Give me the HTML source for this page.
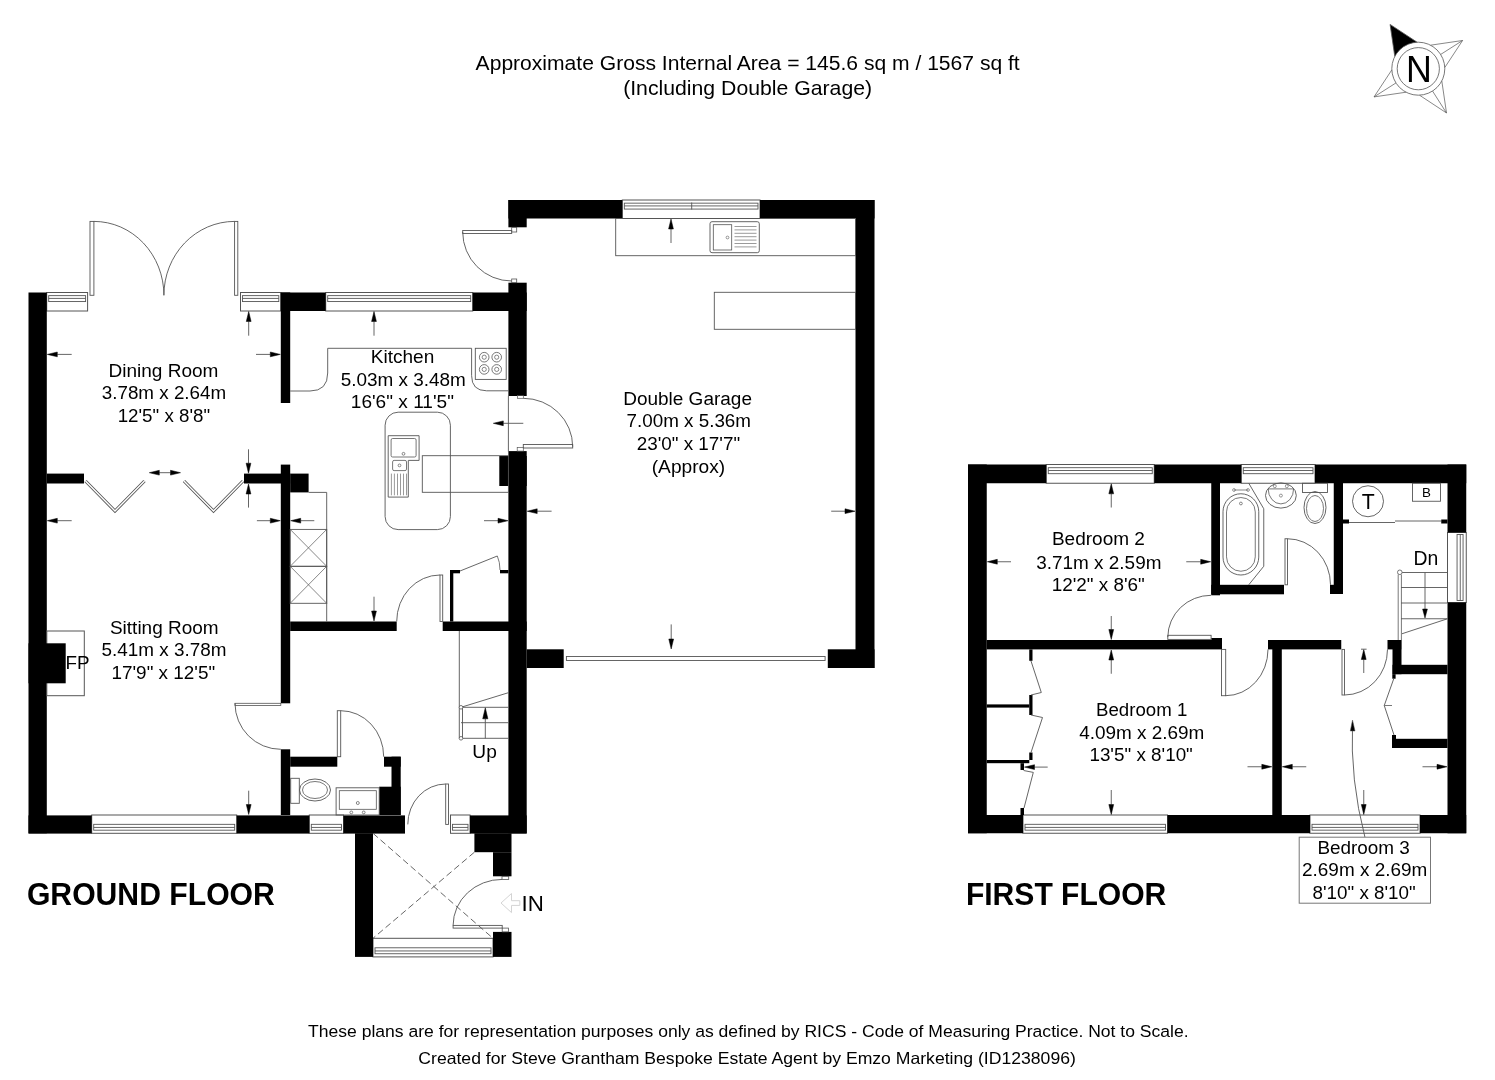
<!DOCTYPE html>
<html><head><meta charset="utf-8"><title>Floor plan</title>
<style>
html,body{margin:0;padding:0;background:#fff;}
body{width:1495px;height:1080px;overflow:hidden;}
svg{display:block;will-change:transform;}
text{font-family:"Liberation Sans",sans-serif;}
</style></head><body>
<svg width="1495" height="1080" viewBox="0 0 1495 1080">
<rect x="0" y="0" width="1495" height="1080" fill="#fff"/>
<rect x="46.70" y="292.50" width="40.90" height="18.50" rx="0" fill="#fff" stroke="#555" stroke-width="1"/>
<rect x="48.70" y="295.64" width="36.90" height="5.92" rx="0" fill="none" stroke="#555" stroke-width="0.9"/>
<line x1="48.70" y1="298.42" x2="85.60" y2="298.42" stroke="#555" stroke-width="0.9" />
<rect x="240.50" y="292.50" width="40.30" height="18.50" rx="0" fill="#fff" stroke="#555" stroke-width="1"/>
<rect x="242.50" y="295.64" width="36.30" height="5.92" rx="0" fill="none" stroke="#555" stroke-width="0.9"/>
<line x1="242.50" y1="298.42" x2="278.80" y2="298.42" stroke="#555" stroke-width="0.9" />
<rect x="325.70" y="292.50" width="147.00" height="18.50" rx="0" fill="#fff" stroke="#555" stroke-width="1"/>
<rect x="327.70" y="295.64" width="143.00" height="5.92" rx="0" fill="none" stroke="#555" stroke-width="0.9"/>
<line x1="327.70" y1="298.42" x2="470.70" y2="298.42" stroke="#555" stroke-width="0.9" />
<rect x="622.30" y="200.00" width="137.70" height="18.50" rx="0" fill="#fff" stroke="#555" stroke-width="1"/>
<rect x="624.30" y="203.15" width="133.70" height="5.92" rx="0" fill="none" stroke="#555" stroke-width="0.9"/>
<line x1="624.30" y1="205.92" x2="758.00" y2="205.92" stroke="#555" stroke-width="0.9" />
<line x1="691.70" y1="202.50" x2="691.70" y2="209.50" stroke="#555" stroke-width="0.9" />
<rect x="91.70" y="815.00" width="145.00" height="18.30" rx="0" fill="#fff" stroke="#555" stroke-width="1"/>
<rect x="93.70" y="824.33" width="141.00" height="5.86" rx="0" fill="none" stroke="#555" stroke-width="0.9"/>
<line x1="93.70" y1="827.44" x2="234.70" y2="827.44" stroke="#555" stroke-width="0.9" />
<rect x="309.30" y="815.00" width="34.20" height="18.30" rx="0" fill="#fff" stroke="#555" stroke-width="1"/>
<rect x="311.30" y="824.33" width="30.20" height="5.86" rx="0" fill="none" stroke="#555" stroke-width="0.9"/>
<line x1="311.30" y1="827.44" x2="341.50" y2="827.44" stroke="#555" stroke-width="0.9" />
<rect x="450.50" y="815.00" width="19.50" height="18.30" rx="0" fill="#fff" stroke="#555" stroke-width="1"/>
<rect x="452.50" y="824.33" width="15.50" height="5.86" rx="0" fill="none" stroke="#555" stroke-width="0.9"/>
<line x1="452.50" y1="827.44" x2="468.00" y2="827.44" stroke="#555" stroke-width="0.9" />
<rect x="373.00" y="938.30" width="120.00" height="18.60" rx="0" fill="#fff" stroke="#555" stroke-width="1"/>
<rect x="375.00" y="947.79" width="116.00" height="5.95" rx="0" fill="none" stroke="#555" stroke-width="0.9"/>
<line x1="375.00" y1="950.95" x2="491.00" y2="950.95" stroke="#555" stroke-width="0.9" />
<rect x="28.50" y="292.50" width="18.30" height="540.80" fill="#000"/>
<rect x="46.80" y="473.60" width="37.20" height="9.90" fill="#000"/>
<rect x="244.00" y="473.60" width="46.20" height="9.90" fill="#000"/>
<rect x="290.20" y="473.60" width="18.40" height="18.80" fill="#000"/>
<rect x="280.80" y="292.50" width="9.40" height="110.50" fill="#000"/>
<rect x="280.80" y="292.50" width="44.90" height="18.50" fill="#000"/>
<rect x="280.80" y="464.60" width="9.40" height="238.70" fill="#000"/>
<rect x="280.80" y="749.30" width="9.40" height="65.70" fill="#000"/>
<rect x="472.70" y="292.50" width="54.00" height="18.50" fill="#000"/>
<rect x="508.40" y="282.70" width="18.30" height="113.30" fill="#000"/>
<rect x="508.40" y="200.00" width="18.30" height="27.30" fill="#000"/>
<rect x="508.40" y="200.00" width="113.90" height="18.50" fill="#000"/>
<rect x="760.00" y="200.00" width="114.50" height="18.50" fill="#000"/>
<rect x="855.50" y="200.00" width="19.00" height="468.00" fill="#000"/>
<rect x="827.80" y="649.30" width="46.70" height="18.70" fill="#000"/>
<rect x="508.40" y="451.10" width="18.30" height="382.20" fill="#000"/>
<rect x="499.30" y="456.00" width="27.40" height="30.00" fill="#000"/>
<rect x="526.70" y="649.30" width="37.00" height="18.70" fill="#000"/>
<rect x="290.20" y="621.50" width="106.50" height="9.50" fill="#000"/>
<rect x="442.70" y="621.50" width="84.00" height="9.50" fill="#000"/>
<rect x="290.20" y="756.70" width="47.10" height="10.00" fill="#000"/>
<rect x="384.00" y="756.70" width="16.70" height="10.00" fill="#000"/>
<rect x="391.50" y="756.70" width="9.20" height="58.30" fill="#000"/>
<rect x="379.20" y="786.70" width="21.50" height="28.30" fill="#000"/>
<rect x="28.50" y="815.40" width="63.20" height="18.20" fill="#000"/>
<rect x="236.70" y="815.40" width="72.60" height="18.20" fill="#000"/>
<rect x="343.50" y="815.40" width="61.50" height="18.20" fill="#000"/>
<rect x="470.00" y="815.40" width="56.70" height="18.20" fill="#000"/>
<rect x="355.00" y="833.30" width="18.00" height="123.60" fill="#000"/>
<rect x="474.40" y="833.30" width="37.10" height="18.90" fill="#000"/>
<rect x="493.00" y="852.20" width="18.50" height="24.10" fill="#000"/>
<rect x="493.00" y="931.90" width="18.50" height="25.00" fill="#000"/>
<rect x="46.80" y="631.00" width="37.50" height="64.70" rx="0" fill="none" stroke="#555" stroke-width="1"/>
<rect x="28.50" y="643.30" width="37.20" height="40.00" fill="#000"/>
<rect x="90.00" y="221.40" width="3.90" height="73.90" rx="0" fill="none" stroke="#555" stroke-width="0.9"/>
<rect x="234.60" y="221.40" width="3.20" height="73.90" rx="0" fill="none" stroke="#555" stroke-width="0.9"/>
<path d="M 93.9 221.4 A 70 73.9 0 0 1 163.9 295.3" fill="none" stroke="#555" stroke-width="0.9"/>
<path d="M 234.6 221.4 A 70.7 73.9 0 0 0 163.9 295.3" fill="none" stroke="#555" stroke-width="0.9"/>
<path d="M 85.5 481.0 L 115.0 511.0 L 144.5 481.0" fill="none" stroke="#555" stroke-width="3.2"/>
<path d="M 85.5 481.0 L 115.0 511.0 L 144.5 481.0" fill="none" stroke="#fff" stroke-width="1.4"/>
<path d="M 184.0 481.0 L 213.5 511.0 L 243.0 481.0" fill="none" stroke="#555" stroke-width="3.2"/>
<path d="M 184.0 481.0 L 213.5 511.0 L 243.0 481.0" fill="none" stroke="#fff" stroke-width="1.4"/>
<line x1="165.00" y1="472.70" x2="159.30" y2="472.70" stroke="#555" stroke-width="0.9" />
<polygon points="149.30,472.70 159.30,470.30 159.30,475.10" fill="#000" stroke="#000" stroke-width="0.5"/>
<line x1="165.00" y1="472.70" x2="170.50" y2="472.70" stroke="#555" stroke-width="0.9" />
<polygon points="180.50,472.70 170.50,475.10 170.50,470.30" fill="#000" stroke="#000" stroke-width="0.5"/>
<path d="M 290.2 391 L 310 391 Q 327.7 391 327.7 373 L 327.7 348.3 L 471.6 348.3 L 471.6 375.6 Q 471.6 390.8 486.6 390.8 L 508.4 390.8" fill="none" stroke="#555" stroke-width="0.9"/>
<rect x="475.30" y="348.30" width="30.90" height="31.10" rx="0" fill="none" stroke="#555" stroke-width="0.9"/>
<circle cx="484.20" cy="357.20" r="4.80" fill="none" stroke="#555" stroke-width="0.8"/>
<circle cx="484.20" cy="357.20" r="2.10" fill="none" stroke="#555" stroke-width="0.7"/>
<circle cx="496.70" cy="357.20" r="4.80" fill="none" stroke="#555" stroke-width="0.8"/>
<circle cx="496.70" cy="357.20" r="2.10" fill="none" stroke="#555" stroke-width="0.7"/>
<circle cx="484.20" cy="369.40" r="4.80" fill="none" stroke="#555" stroke-width="0.8"/>
<circle cx="484.20" cy="369.40" r="2.10" fill="none" stroke="#555" stroke-width="0.7"/>
<circle cx="496.70" cy="369.40" r="4.80" fill="none" stroke="#555" stroke-width="0.8"/>
<circle cx="496.70" cy="369.40" r="2.10" fill="none" stroke="#555" stroke-width="0.7"/>
<rect x="385.10" y="412.20" width="65.30" height="117.40" rx="13" fill="none" stroke="#555" stroke-width="0.9"/>
<rect x="422.30" y="455.70" width="86.10" height="36.60" rx="0" fill="none" stroke="#555" stroke-width="0.9"/>
<polygon points="388.20,435.70 419.10,435.70 419.10,460.40 408.30,460.40 408.30,497.10 388.20,497.10" fill="none" stroke="#555" stroke-width="0.9"/>
<rect x="391.10" y="438.50" width="25.00" height="18.50" rx="1.5" fill="none" stroke="#555" stroke-width="0.8"/>
<circle cx="403.50" cy="453.80" r="1.40" fill="none" stroke="#555" stroke-width="0.7"/>
<rect x="392.60" y="460.40" width="13.90" height="10.20" rx="1.5" fill="none" stroke="#555" stroke-width="0.8"/>
<circle cx="399.50" cy="465.40" r="1.40" fill="none" stroke="#555" stroke-width="0.7"/>
<line x1="391.40" y1="473.60" x2="391.40" y2="495.30" stroke="#555" stroke-width="0.6" />
<line x1="394.40" y1="473.60" x2="394.40" y2="495.30" stroke="#555" stroke-width="0.6" />
<line x1="397.50" y1="473.60" x2="397.50" y2="495.30" stroke="#555" stroke-width="0.6" />
<line x1="400.50" y1="473.60" x2="400.50" y2="495.30" stroke="#555" stroke-width="0.6" />
<line x1="403.50" y1="473.60" x2="403.50" y2="495.30" stroke="#555" stroke-width="0.6" />
<line x1="406.50" y1="473.60" x2="406.50" y2="495.30" stroke="#555" stroke-width="0.6" />
<line x1="508.40" y1="396.00" x2="508.40" y2="451.70" stroke="#555" stroke-width="0.9" />
<rect x="517.50" y="395.60" width="5.80" height="2.70" rx="0" fill="none" stroke="#555" stroke-width="0.7"/>
<rect x="523.30" y="444.50" width="49.40" height="3.50" rx="0" fill="none" stroke="#555" stroke-width="0.9"/>
<rect x="517.20" y="447.60" width="6.10" height="3.50" rx="0" fill="none" stroke="#555" stroke-width="0.7"/>
<path d="M 523.3 398.3 A 49.4 48.4 0 0 1 572.7 446.7" fill="none" stroke="#555" stroke-width="0.9"/>
<rect x="462.70" y="230.50" width="49.00" height="3.00" rx="0" fill="none" stroke="#555" stroke-width="0.9"/>
<rect x="511.70" y="227.30" width="5.00" height="4.70" rx="0" fill="none" stroke="#555" stroke-width="0.8"/>
<path d="M 462.7 232 A 49 49 0 0 0 511.7 281" fill="none" stroke="#555" stroke-width="0.9"/>
<rect x="511.70" y="279.00" width="5.00" height="3.70" rx="0" fill="none" stroke="#555" stroke-width="0.8"/>
<rect x="615.70" y="218.50" width="239.80" height="37.20" rx="0" fill="none" stroke="#555" stroke-width="0.9"/>
<rect x="710.00" y="221.70" width="49.30" height="31.00" rx="2" fill="none" stroke="#555" stroke-width="0.9"/>
<rect x="713.30" y="224.70" width="18.40" height="25.30" rx="0" fill="none" stroke="#555" stroke-width="0.8"/>
<circle cx="727.50" cy="237.50" r="1.40" fill="none" stroke="#555" stroke-width="0.6"/>
<line x1="734.50" y1="226.50" x2="756.50" y2="226.50" stroke="#555" stroke-width="0.6" />
<line x1="734.50" y1="229.90" x2="756.50" y2="229.90" stroke="#555" stroke-width="0.6" />
<line x1="734.50" y1="233.30" x2="756.50" y2="233.30" stroke="#555" stroke-width="0.6" />
<line x1="734.50" y1="236.70" x2="756.50" y2="236.70" stroke="#555" stroke-width="0.6" />
<line x1="734.50" y1="240.10" x2="756.50" y2="240.10" stroke="#555" stroke-width="0.6" />
<line x1="734.50" y1="243.50" x2="756.50" y2="243.50" stroke="#555" stroke-width="0.6" />
<line x1="734.50" y1="246.90" x2="756.50" y2="246.90" stroke="#555" stroke-width="0.6" />
<rect x="714.30" y="292.30" width="141.20" height="37.00" rx="0" fill="none" stroke="#555" stroke-width="0.9"/>
<rect x="566.40" y="656.50" width="258.70" height="4.00" rx="0" fill="none" stroke="#555" stroke-width="0.9"/>
<line x1="326.70" y1="492.40" x2="326.70" y2="621.50" stroke="#555" stroke-width="0.9" />
<line x1="308.60" y1="492.40" x2="326.70" y2="492.40" stroke="#555" stroke-width="0.9" />
<rect x="290.20" y="529.40" width="36.50" height="36.90" rx="0" fill="none" stroke="#555" stroke-width="0.9"/>
<line x1="290.20" y1="529.40" x2="326.70" y2="566.30" stroke="#555" stroke-width="0.7" />
<line x1="326.70" y1="529.40" x2="290.20" y2="566.30" stroke="#555" stroke-width="0.7" />
<rect x="290.20" y="566.30" width="36.50" height="37.00" rx="0" fill="none" stroke="#555" stroke-width="0.9"/>
<line x1="290.20" y1="566.30" x2="326.70" y2="603.30" stroke="#555" stroke-width="0.7" />
<line x1="326.70" y1="566.30" x2="290.20" y2="603.30" stroke="#555" stroke-width="0.7" />
<rect x="440.00" y="575.00" width="2.70" height="46.50" rx="0" fill="none" stroke="#555" stroke-width="0.9"/>
<path d="M 440 575 A 43.3 46.5 0 0 0 396.7 621.5" fill="none" stroke="#555" stroke-width="0.9"/>
<rect x="450.00" y="570.00" width="3.30" height="51.50" fill="#000"/>
<rect x="450.00" y="570.00" width="10.00" height="3.30" fill="#000"/>
<rect x="500.00" y="570.00" width="8.40" height="3.30" fill="#000"/>
<line x1="460.00" y1="571.00" x2="497.30" y2="556.00" stroke="#555" stroke-width="0.9" />
<path d="M 497.3 556 Q 500 562 500 570" fill="none" stroke="#555" stroke-width="0.8"/>
<rect x="235.00" y="703.30" width="45.80" height="2.20" rx="0" fill="none" stroke="#555" stroke-width="0.8"/>
<path d="M 235 703.3 A 45.8 46 0 0 0 280.8 749.3" fill="none" stroke="#555" stroke-width="0.9"/>
<rect x="337.30" y="710.70" width="3.40" height="46.00" rx="0" fill="none" stroke="#555" stroke-width="0.9"/>
<path d="M 340.7 710.7 A 43 46 0 0 1 383.7 756.7" fill="none" stroke="#555" stroke-width="0.9"/>
<rect x="290.70" y="778.30" width="8.60" height="25.00" rx="0" fill="none" stroke="#555" stroke-width="0.9"/>
<ellipse cx="315.00" cy="790.00" rx="15.50" ry="11.00" fill="none" stroke="#555" stroke-width="0.9"/>
<ellipse cx="315.00" cy="790.00" rx="12.50" ry="8.50" fill="none" stroke="#555" stroke-width="0.8"/>
<rect x="336.10" y="787.80" width="43.10" height="27.20" rx="0" fill="none" stroke="#555" stroke-width="0.9"/>
<rect x="339.30" y="790.70" width="37.00" height="18.60" rx="0" fill="none" stroke="#555" stroke-width="0.8"/>
<circle cx="357.80" cy="803.00" r="1.50" fill="none" stroke="#555" stroke-width="0.7"/>
<circle cx="351.30" cy="812.40" r="1.40" fill="none" stroke="#555" stroke-width="0.7"/>
<circle cx="363.70" cy="812.40" r="1.40" fill="none" stroke="#555" stroke-width="0.7"/>
<line x1="459.30" y1="631.00" x2="459.30" y2="738.30" stroke="#555" stroke-width="0.9" />
<line x1="462.50" y1="707.60" x2="462.50" y2="738.40" stroke="#555" stroke-width="0.9" />
<line x1="461.00" y1="707.30" x2="508.40" y2="707.30" stroke="#555" stroke-width="0.9" />
<line x1="461.00" y1="722.70" x2="508.40" y2="722.70" stroke="#555" stroke-width="0.9" />
<line x1="461.00" y1="738.30" x2="508.40" y2="738.30" stroke="#555" stroke-width="0.9" />
<line x1="461.00" y1="707.30" x2="508.40" y2="692.70" stroke="#555" stroke-width="0.9" />
<circle cx="461.00" cy="707.30" r="1.80" fill="#fff" stroke="#555" stroke-width="0.8"/>
<circle cx="461.00" cy="738.30" r="1.80" fill="#fff" stroke="#555" stroke-width="0.8"/>
<line x1="485.30" y1="738.40" x2="485.30" y2="718.80" stroke="#555" stroke-width="0.9" />
<polygon points="485.30,707.80 487.90,718.80 482.70,718.80" fill="#000" stroke="#000" stroke-width="0.5"/>
<rect x="445.70" y="784.00" width="2.80" height="40.40" rx="0" fill="none" stroke="#555" stroke-width="0.9"/>
<path d="M 445.7 784 A 38 40.4 0 0 0 407.8 824.4" fill="none" stroke="#555" stroke-width="0.9"/>
<line x1="373.00" y1="833.30" x2="493.00" y2="938.30" stroke="#555" stroke-width="0.9" stroke-dasharray="6.5,3.5"/>
<line x1="474.40" y1="852.20" x2="373.00" y2="938.30" stroke="#555" stroke-width="0.9" stroke-dasharray="6.5,3.5"/>
<rect x="453.10" y="925.40" width="49.10" height="2.70" rx="0" fill="none" stroke="#555" stroke-width="0.9"/>
<rect x="502.20" y="928.10" width="6.30" height="3.80" rx="0" fill="none" stroke="#555" stroke-width="0.8"/>
<path d="M 453.1 925.4 A 49 46 0 0 1 502.2 879.4" fill="none" stroke="#555" stroke-width="0.9"/>
<rect x="502.00" y="876.30" width="6.70" height="3.10" rx="0" fill="none" stroke="#555" stroke-width="0.8"/>
<polygon points="501.00,903.00 511.50,893.50 511.50,900.70 519.80,900.70 519.80,905.40 511.50,905.40 511.50,912.60" fill="none" stroke="#d4d4d4" stroke-width="1"/>
<line x1="71.70" y1="354.40" x2="57.30" y2="354.40" stroke="#555" stroke-width="0.9" />
<polygon points="47.30,354.40 57.30,352.00 57.30,356.80" fill="#000" stroke="#000" stroke-width="0.5"/>
<line x1="256.00" y1="354.40" x2="270.30" y2="354.40" stroke="#555" stroke-width="0.9" />
<polygon points="280.30,354.40 270.30,356.80 270.30,352.00" fill="#000" stroke="#000" stroke-width="0.5"/>
<line x1="248.70" y1="335.70" x2="248.70" y2="321.50" stroke="#555" stroke-width="0.9" />
<polygon points="248.70,311.50 251.10,321.50 246.30,321.50" fill="#000" stroke="#000" stroke-width="0.5"/>
<line x1="374.00" y1="335.70" x2="374.00" y2="321.50" stroke="#555" stroke-width="0.9" />
<polygon points="374.00,311.50 376.40,321.50 371.60,321.50" fill="#000" stroke="#000" stroke-width="0.5"/>
<line x1="671.00" y1="243.00" x2="671.00" y2="229.00" stroke="#555" stroke-width="0.9" />
<polygon points="671.00,219.00 673.40,229.00 668.60,229.00" fill="#000" stroke="#000" stroke-width="0.5"/>
<line x1="71.70" y1="520.70" x2="57.30" y2="520.70" stroke="#555" stroke-width="0.9" />
<polygon points="47.30,520.70 57.30,518.30 57.30,523.10" fill="#000" stroke="#000" stroke-width="0.5"/>
<line x1="256.90" y1="520.70" x2="270.30" y2="520.70" stroke="#555" stroke-width="0.9" />
<polygon points="280.30,520.70 270.30,523.10 270.30,518.30" fill="#000" stroke="#000" stroke-width="0.5"/>
<line x1="314.30" y1="520.70" x2="300.70" y2="520.70" stroke="#555" stroke-width="0.9" />
<polygon points="290.70,520.70 300.70,518.30 300.70,523.10" fill="#000" stroke="#000" stroke-width="0.5"/>
<line x1="248.50" y1="449.30" x2="248.50" y2="463.20" stroke="#555" stroke-width="0.9" />
<polygon points="248.50,473.20 246.10,463.20 250.90,463.20" fill="#000" stroke="#000" stroke-width="0.5"/>
<line x1="248.50" y1="507.60" x2="248.50" y2="494.00" stroke="#555" stroke-width="0.9" />
<polygon points="248.50,484.00 250.90,494.00 246.10,494.00" fill="#000" stroke="#000" stroke-width="0.5"/>
<line x1="248.70" y1="790.70" x2="248.70" y2="804.50" stroke="#555" stroke-width="0.9" />
<polygon points="248.70,814.50 246.30,804.50 251.10,804.50" fill="#000" stroke="#000" stroke-width="0.5"/>
<line x1="374.00" y1="596.70" x2="374.00" y2="611.00" stroke="#555" stroke-width="0.9" />
<polygon points="374.00,621.00 371.60,611.00 376.40,611.00" fill="#000" stroke="#000" stroke-width="0.5"/>
<line x1="484.00" y1="520.70" x2="498.00" y2="520.70" stroke="#555" stroke-width="0.9" />
<polygon points="508.00,520.70 498.00,523.10 498.00,518.30" fill="#000" stroke="#000" stroke-width="0.5"/>
<line x1="523.30" y1="423.30" x2="503.30" y2="423.30" stroke="#555" stroke-width="0.9" />
<polygon points="493.30,423.30 503.30,420.90 503.30,425.70" fill="#000" stroke="#000" stroke-width="0.5"/>
<line x1="551.60" y1="511.20" x2="537.20" y2="511.20" stroke="#555" stroke-width="0.9" />
<polygon points="527.20,511.20 537.20,508.80 537.20,513.60" fill="#000" stroke="#000" stroke-width="0.5"/>
<line x1="831.20" y1="511.20" x2="845.00" y2="511.20" stroke="#555" stroke-width="0.9" />
<polygon points="855.00,511.20 845.00,513.60 845.00,508.80" fill="#000" stroke="#000" stroke-width="0.5"/>
<line x1="671.20" y1="624.40" x2="671.20" y2="639.00" stroke="#555" stroke-width="0.9" />
<polygon points="671.20,649.00 668.80,639.00 673.60,639.00" fill="#000" stroke="#000" stroke-width="0.5"/>
<rect x="1046.25" y="464.50" width="108.00" height="18.75" rx="0" fill="#fff" stroke="#555" stroke-width="1"/>
<rect x="1048.25" y="467.69" width="104.00" height="6.00" rx="0" fill="none" stroke="#555" stroke-width="0.9"/>
<line x1="1048.25" y1="470.50" x2="1152.25" y2="470.50" stroke="#555" stroke-width="0.9" />
<rect x="1241.25" y="464.50" width="73.75" height="18.75" rx="0" fill="#fff" stroke="#555" stroke-width="1"/>
<rect x="1243.25" y="467.69" width="69.75" height="6.00" rx="0" fill="none" stroke="#555" stroke-width="0.9"/>
<line x1="1243.25" y1="470.50" x2="1313.00" y2="470.50" stroke="#555" stroke-width="0.9" />
<rect x="1023.00" y="815.00" width="144.50" height="18.25" rx="0" fill="#fff" stroke="#555" stroke-width="1"/>
<rect x="1025.00" y="824.31" width="140.50" height="5.84" rx="0" fill="none" stroke="#555" stroke-width="0.9"/>
<line x1="1025.00" y1="827.41" x2="1165.50" y2="827.41" stroke="#555" stroke-width="0.9" />
<rect x="1310.00" y="815.00" width="110.00" height="18.25" rx="0" fill="#fff" stroke="#555" stroke-width="1"/>
<rect x="1312.00" y="824.31" width="106.00" height="5.84" rx="0" fill="none" stroke="#555" stroke-width="0.9"/>
<line x1="1312.00" y1="827.41" x2="1418.00" y2="827.41" stroke="#555" stroke-width="0.9" />
<rect x="1447.50" y="532.50" width="18.75" height="70.00" rx="0" fill="#fff" stroke="#555" stroke-width="1"/>
<rect x="1457.06" y="534.50" width="6.00" height="66.00" rx="0" fill="none" stroke="#555" stroke-width="0.9"/>
<line x1="1460.25" y1="534.50" x2="1460.25" y2="600.50" stroke="#555" stroke-width="0.9" />
<rect x="968.00" y="464.50" width="18.75" height="368.75" fill="#000"/>
<rect x="968.00" y="464.50" width="78.25" height="18.75" fill="#000"/>
<rect x="1154.25" y="464.50" width="87.00" height="18.75" fill="#000"/>
<rect x="1315.00" y="464.50" width="151.25" height="18.75" fill="#000"/>
<rect x="1447.50" y="464.50" width="18.75" height="68.00" fill="#000"/>
<rect x="1447.50" y="602.50" width="18.75" height="230.75" fill="#000"/>
<rect x="1211.25" y="483.00" width="8.75" height="112.30" fill="#000"/>
<rect x="1211.25" y="584.80" width="72.75" height="9.50" fill="#000"/>
<rect x="1333.75" y="483.00" width="9.25" height="111.00" fill="#000"/>
<rect x="1330.00" y="584.80" width="13.00" height="9.20" fill="#000"/>
<rect x="986.75" y="640.00" width="235.25" height="9.40" fill="#000"/>
<rect x="1211.25" y="638.00" width="10.75" height="2.00" fill="#000"/>
<rect x="1268.00" y="640.00" width="73.25" height="9.40" fill="#000"/>
<rect x="1387.50" y="640.00" width="13.75" height="9.40" fill="#000"/>
<rect x="1392.50" y="640.00" width="9.00" height="34.20" fill="#000"/>
<rect x="1392.30" y="674.20" width="3.30" height="4.50" fill="#000"/>
<rect x="1392.50" y="664.80" width="55.00" height="9.40" fill="#000"/>
<rect x="1392.00" y="738.80" width="55.50" height="9.20" fill="#000"/>
<rect x="1392.00" y="735.00" width="4.00" height="4.00" fill="#000"/>
<rect x="1272.30" y="640.00" width="9.50" height="175.00" fill="#000"/>
<rect x="968.00" y="815.00" width="55.00" height="18.25" fill="#000"/>
<rect x="1167.50" y="815.00" width="142.50" height="18.25" fill="#000"/>
<rect x="1420.00" y="815.00" width="46.25" height="18.25" fill="#000"/>
<rect x="986.75" y="704.40" width="42.55" height="3.20" fill="#000"/>
<rect x="986.75" y="760.00" width="42.55" height="3.20" fill="#000"/>
<rect x="1029.25" y="649.40" width="3.25" height="11.40" fill="#000"/>
<rect x="1029.25" y="695.00" width="3.25" height="20.00" fill="#000"/>
<rect x="1029.25" y="752.50" width="3.25" height="7.50" fill="#000"/>
<rect x="1020.50" y="808.00" width="3.50" height="7.00" fill="#000"/>
<rect x="1020.50" y="763.20" width="3.50" height="6.80" fill="#000"/>
<polyline points="1031.00,661.00 1041.30,692.50 1031.00,695.00" fill="none" stroke="#555" stroke-width="0.9"/>
<polyline points="1031.00,715.00 1042.50,717.50 1031.00,752.50" fill="none" stroke="#555" stroke-width="0.9"/>
<polyline points="1023.60,770.50 1033.30,772.40 1024.00,808.00" fill="none" stroke="#555" stroke-width="0.9"/>
<line x1="1047.70" y1="767.10" x2="1034.50" y2="767.10" stroke="#555" stroke-width="0.9" />
<polygon points="1024.50,767.10 1034.50,764.70 1034.50,769.50" fill="#000" stroke="#000" stroke-width="0.5"/>
<rect x="1167.80" y="635.30" width="43.30" height="4.10" rx="0" fill="none" stroke="#555" stroke-width="0.9"/>
<path d="M 1167.8 637 A 43.3 42 0 0 1 1211.1 595.3" fill="none" stroke="#555" stroke-width="0.9"/>
<rect x="1221.50" y="649.40" width="4.20" height="46.30" rx="0" fill="none" stroke="#555" stroke-width="0.9"/>
<path d="M 1225.7 695.7 A 42.3 46.3 0 0 0 1268 649.4" fill="none" stroke="#555" stroke-width="0.9"/>
<rect x="1342.00" y="649.40" width="2.50" height="45.60" rx="0" fill="none" stroke="#555" stroke-width="0.9"/>
<path d="M 1344.5 695 A 43 45.6 0 0 0 1387.5 649.4" fill="none" stroke="#555" stroke-width="0.9"/>
<rect x="1285.00" y="538.75" width="2.50" height="46.05" rx="0" fill="none" stroke="#555" stroke-width="0.9"/>
<path d="M 1287.5 538.75 A 43 46 0 0 1 1330.5 584.8" fill="none" stroke="#555" stroke-width="0.9"/>
<polyline points="1248.75,483.25 1263.75,508.75 1263.75,566.25 1248.75,584.80" fill="none" stroke="#555" stroke-width="0.9"/>
<rect x="1223.00" y="493.75" width="35.75" height="81.25" rx="17.9" fill="none" stroke="#555" stroke-width="0.9"/>
<rect x="1226.50" y="497.50" width="28.75" height="73.75" rx="14.4" fill="none" stroke="#555" stroke-width="0.8"/>
<circle cx="1240.90" cy="503.50" r="1.40" fill="none" stroke="#555" stroke-width="0.7"/>
<line x1="1234.00" y1="490.00" x2="1248.00" y2="490.00" stroke="#555" stroke-width="0.7" />
<circle cx="1234.00" cy="490.00" r="1.40" fill="none" stroke="#555" stroke-width="0.6"/>
<circle cx="1248.00" cy="490.00" r="1.40" fill="none" stroke="#555" stroke-width="0.6"/>
<ellipse cx="1280.90" cy="495.50" rx="15.40" ry="12.60" fill="none" stroke="#555" stroke-width="0.9"/>
<path d="M 1268.2 488.9 L 1293.6 488.9 A 12.7 15 0 0 1 1268.2 488.9 Z" fill="none" stroke="#555" stroke-width="0.8"/>
<circle cx="1274.80" cy="486.20" r="1.50" fill="none" stroke="#555" stroke-width="0.6"/>
<circle cx="1286.80" cy="486.20" r="1.50" fill="none" stroke="#555" stroke-width="0.6"/>
<circle cx="1280.90" cy="495.60" r="1.50" fill="none" stroke="#555" stroke-width="0.6"/>
<rect x="1302.50" y="483.25" width="25.00" height="9.25" rx="0" fill="none" stroke="#555" stroke-width="0.9"/>
<ellipse cx="1315.00" cy="507.50" rx="11.00" ry="16.00" fill="none" stroke="#555" stroke-width="0.9"/>
<ellipse cx="1315.00" cy="508.50" rx="8.50" ry="13.00" fill="none" stroke="#555" stroke-width="0.8"/>
<circle cx="1368.00" cy="501.25" r="15.50" fill="none" stroke="#555" stroke-width="0.9"/>
<rect x="1412.50" y="483.25" width="28.00" height="18.00" rx="0" fill="none" stroke="#555" stroke-width="0.9"/>
<line x1="1349.00" y1="522.50" x2="1395.00" y2="522.50" stroke="#555" stroke-width="0.9" />
<line x1="1395.00" y1="521.00" x2="1441.25" y2="521.00" stroke="#555" stroke-width="0.9" />
<rect x="1343.00" y="519.50" width="6.00" height="4.00" fill="#000"/>
<rect x="1441.25" y="519.50" width="6.25" height="4.00" fill="#000"/>
<line x1="1398.20" y1="574.50" x2="1398.20" y2="640.00" stroke="#555" stroke-width="0.8" />
<line x1="1401.40" y1="574.50" x2="1401.40" y2="640.00" stroke="#555" stroke-width="0.8" />
<line x1="1401.00" y1="572.50" x2="1447.50" y2="572.50" stroke="#555" stroke-width="0.9" />
<line x1="1401.00" y1="587.50" x2="1447.50" y2="587.50" stroke="#555" stroke-width="0.9" />
<line x1="1401.00" y1="603.00" x2="1447.50" y2="603.00" stroke="#555" stroke-width="0.9" />
<line x1="1401.00" y1="618.75" x2="1447.50" y2="618.75" stroke="#555" stroke-width="0.9" />
<line x1="1402.00" y1="633.75" x2="1447.50" y2="618.75" stroke="#555" stroke-width="0.9" />
<circle cx="1399.80" cy="572.30" r="2.30" fill="#fff" stroke="#555" stroke-width="0.8"/>
<line x1="1425.00" y1="572.50" x2="1425.00" y2="609.00" stroke="#555" stroke-width="0.9" />
<polygon points="1425.00,618.00 1422.60,609.00 1427.40,609.00" fill="#000" stroke="#000" stroke-width="0.5"/>
<polyline points="1394.00,678.00 1384.25,705.50 1394.00,735.00" fill="none" stroke="#555" stroke-width="0.9"/>
<line x1="1384.25" y1="705.50" x2="1392.00" y2="705.50" stroke="#555" stroke-width="0.8" />
<line x1="1111.25" y1="507.50" x2="1111.25" y2="493.80" stroke="#555" stroke-width="0.9" />
<polygon points="1111.25,483.80 1113.65,493.80 1108.85,493.80" fill="#000" stroke="#000" stroke-width="0.5"/>
<line x1="1011.00" y1="561.75" x2="997.30" y2="561.75" stroke="#555" stroke-width="0.9" />
<polygon points="987.30,561.75 997.30,559.35 997.30,564.15" fill="#000" stroke="#000" stroke-width="0.5"/>
<line x1="1186.25" y1="561.75" x2="1200.70" y2="561.75" stroke="#555" stroke-width="0.9" />
<polygon points="1210.70,561.75 1200.70,564.15 1200.70,559.35" fill="#000" stroke="#000" stroke-width="0.5"/>
<line x1="1111.25" y1="616.00" x2="1111.25" y2="629.50" stroke="#555" stroke-width="0.9" />
<polygon points="1111.25,639.50 1108.85,629.50 1113.65,629.50" fill="#000" stroke="#000" stroke-width="0.5"/>
<line x1="1111.25" y1="673.75" x2="1111.25" y2="660.00" stroke="#555" stroke-width="0.9" />
<polygon points="1111.25,650.00 1113.65,660.00 1108.85,660.00" fill="#000" stroke="#000" stroke-width="0.5"/>
<line x1="1111.25" y1="790.00" x2="1111.25" y2="804.50" stroke="#555" stroke-width="0.9" />
<polygon points="1111.25,814.50 1108.85,804.50 1113.65,804.50" fill="#000" stroke="#000" stroke-width="0.5"/>
<line x1="1247.50" y1="766.75" x2="1261.80" y2="766.75" stroke="#555" stroke-width="0.9" />
<polygon points="1271.80,766.75 1261.80,769.15 1261.80,764.35" fill="#000" stroke="#000" stroke-width="0.5"/>
<line x1="1306.25" y1="766.75" x2="1292.30" y2="766.75" stroke="#555" stroke-width="0.9" />
<polygon points="1282.30,766.75 1292.30,764.35 1292.30,769.15" fill="#000" stroke="#000" stroke-width="0.5"/>
<line x1="1422.50" y1="766.75" x2="1437.00" y2="766.75" stroke="#555" stroke-width="0.9" />
<polygon points="1447.00,766.75 1437.00,769.15 1437.00,764.35" fill="#000" stroke="#000" stroke-width="0.5"/>
<line x1="1363.75" y1="673.00" x2="1363.75" y2="659.50" stroke="#555" stroke-width="0.9" />
<polygon points="1363.75,649.50 1366.15,659.50 1361.35,659.50" fill="#000" stroke="#000" stroke-width="0.5"/>
<line x1="1361.00" y1="649.20" x2="1366.60" y2="649.20" stroke="#555" stroke-width="0.9" />
<line x1="1363.75" y1="790.00" x2="1363.75" y2="804.50" stroke="#555" stroke-width="0.9" />
<polygon points="1363.75,814.50 1361.35,804.50 1366.15,804.50" fill="#000" stroke="#000" stroke-width="0.5"/>
<path d="M 1365 837.5 Q 1350 780 1352.5 722" fill="none" stroke="#555" stroke-width="0.9"/>
<polygon points="1352.50,720.00 1350.30,731.00 1355.00,731.00" fill="#000" stroke="#555" stroke-width="0.5"/>
<rect x="1299.20" y="837.20" width="131.30" height="66.00" rx="0" fill="#fff" stroke="#777" stroke-width="1"/>
<polygon points="1390.09,24.42 1394.79,56.46 1417.14,42.23" fill="#000" stroke="#555" stroke-width="0.8"/>
<polyline points="1430.54,45.19 1462.58,40.49 1444.77,67.54" fill="none" stroke="#555" stroke-width="0.7"/>
<line x1="1462.58" y1="40.49" x2="1440.65" y2="54.46" stroke="#555" stroke-width="0.7" />
<polyline points="1441.81,80.94 1446.51,112.98 1419.46,95.17" fill="none" stroke="#555" stroke-width="0.7"/>
<line x1="1446.51" y1="112.98" x2="1432.54" y2="91.05" stroke="#555" stroke-width="0.7" />
<polyline points="1406.06,92.21 1374.02,96.91 1391.83,69.86" fill="none" stroke="#555" stroke-width="0.7"/>
<line x1="1374.02" y1="96.91" x2="1395.95" y2="82.94" stroke="#555" stroke-width="0.7" />
<circle cx="1418.30" cy="68.70" r="26.50" fill="#fff" stroke="#555" stroke-width="0.8"/>
<circle cx="1418.30" cy="68.70" r="21.10" fill="none" stroke="#555" stroke-width="0.8"/>
<text transform="translate(475.60,69.70) scale(1.0619,1)" font-size="19.86" font-weight="normal">Approximate Gross Internal Area = 145.6 sq m / 1567 sq ft</text>
<text transform="translate(623.13,95.10) scale(1.0698,1)" font-size="19.86" font-weight="normal">(Including Double Garage)</text>
<text transform="translate(308.05,1037.40) scale(1.0508,1)" font-size="16.71" font-weight="normal">These plans are for representation purposes only as defined by RICS - Code of Measuring Practice. Not to Scale.</text>
<text transform="translate(418.32,1063.50) scale(1.0542,1)" font-size="16.71" font-weight="normal">Created for Steve Grantham Bespoke Estate Agent by Emzo Marketing (ID1238096)</text>
<text transform="translate(26.89,905.20) scale(0.9514,1)" font-size="31.71" font-weight="bold">GROUND FLOOR</text>
<text transform="translate(965.89,905.00) scale(0.9488,1)" font-size="31.71" font-weight="bold">FIRST FLOOR</text>
<text transform="translate(108.48,376.70) scale(1.0667,1)" font-size="17.85" font-weight="normal">Dining Room</text>
<text transform="translate(101.75,399.00) scale(1.0550,1)" font-size="17.85" font-weight="normal">3.78m x 2.64m</text>
<text transform="translate(117.70,421.50) scale(1.0504,1)" font-size="17.85" font-weight="normal">12'5&quot; x 8'8&quot;</text>
<text transform="translate(370.78,363.10) scale(1.0677,1)" font-size="17.85" font-weight="normal">Kitchen</text>
<text transform="translate(340.64,385.50) scale(1.0610,1)" font-size="17.85" font-weight="normal">5.03m x 3.48m</text>
<text transform="translate(350.77,407.50) scale(1.0685,1)" font-size="17.85" font-weight="normal">16'6&quot; x 11'5&quot;</text>
<text transform="translate(623.18,404.60) scale(1.0640,1)" font-size="17.85" font-weight="normal">Double Garage</text>
<text transform="translate(626.56,427.10) scale(1.0549,1)" font-size="17.85" font-weight="normal">7.00m x 5.36m</text>
<text transform="translate(636.66,450.20) scale(1.0580,1)" font-size="17.85" font-weight="normal">23'0&quot; x 17'7&quot;</text>
<text transform="translate(651.75,472.80) scale(1.0721,1)" font-size="17.85" font-weight="normal">(Approx)</text>
<text transform="translate(109.95,633.50) scale(1.0645,1)" font-size="17.85" font-weight="normal">Sitting Room</text>
<text transform="translate(101.54,655.80) scale(1.0584,1)" font-size="17.85" font-weight="normal">5.41m x 3.78m</text>
<text transform="translate(111.49,678.50) scale(1.0598,1)" font-size="17.85" font-weight="normal">17'9&quot; x 12'5&quot;</text>
<text transform="translate(1051.88,545.40) scale(1.0663,1)" font-size="17.85" font-weight="normal">Bedroom 2</text>
<text transform="translate(1036.24,568.50) scale(1.0610,1)" font-size="17.85" font-weight="normal">3.71m x 2.59m</text>
<text transform="translate(1051.69,591.00) scale(1.0597,1)" font-size="17.85" font-weight="normal">12'2&quot; x 8'6&quot;</text>
<text transform="translate(1096.01,716.10) scale(1.0463,1)" font-size="17.85" font-weight="normal">Bedroom 1</text>
<text transform="translate(1079.32,738.50) scale(1.0603,1)" font-size="17.85" font-weight="normal">4.09m x 2.69m</text>
<text transform="translate(1089.39,761.00) scale(1.0566,1)" font-size="17.85" font-weight="normal">13'5&quot; x 8'10&quot;</text>
<text transform="translate(1317.39,853.60) scale(1.0605,1)" font-size="17.85" font-weight="normal">Bedroom 3</text>
<text transform="translate(1302.05,876.10) scale(1.0609,1)" font-size="17.85" font-weight="normal">2.69m x 2.69m</text>
<text transform="translate(1312.55,898.50) scale(1.0550,1)" font-size="17.85" font-weight="normal">8'10&quot; x 8'10&quot;</text>
<text transform="translate(65.49,669.40) scale(1.0167,1)" font-size="18.55" font-weight="normal">FP</text>
<text transform="translate(472.37,757.60) scale(1.0480,1)" font-size="18.26" font-weight="normal">Up</text>
<text transform="translate(1413.45,564.60) scale(0.9906,1)" font-size="19.57" font-weight="normal">Dn</text>
<text transform="translate(521.49,910.60) scale(1.0322,1)" font-size="21.59" font-weight="normal">IN</text>
<text transform="translate(1361.68,508.80) scale(0.9765,1)" font-size="21.74" font-weight="normal">T</text>
<text transform="translate(1421.93,497.10) scale(1.0386,1)" font-size="12.90" font-weight="normal">B</text>
<text transform="translate(1405.99,81.85) scale(0.9707,1)" font-size="36.88" font-weight="normal">N</text>
</svg>
</body></html>
